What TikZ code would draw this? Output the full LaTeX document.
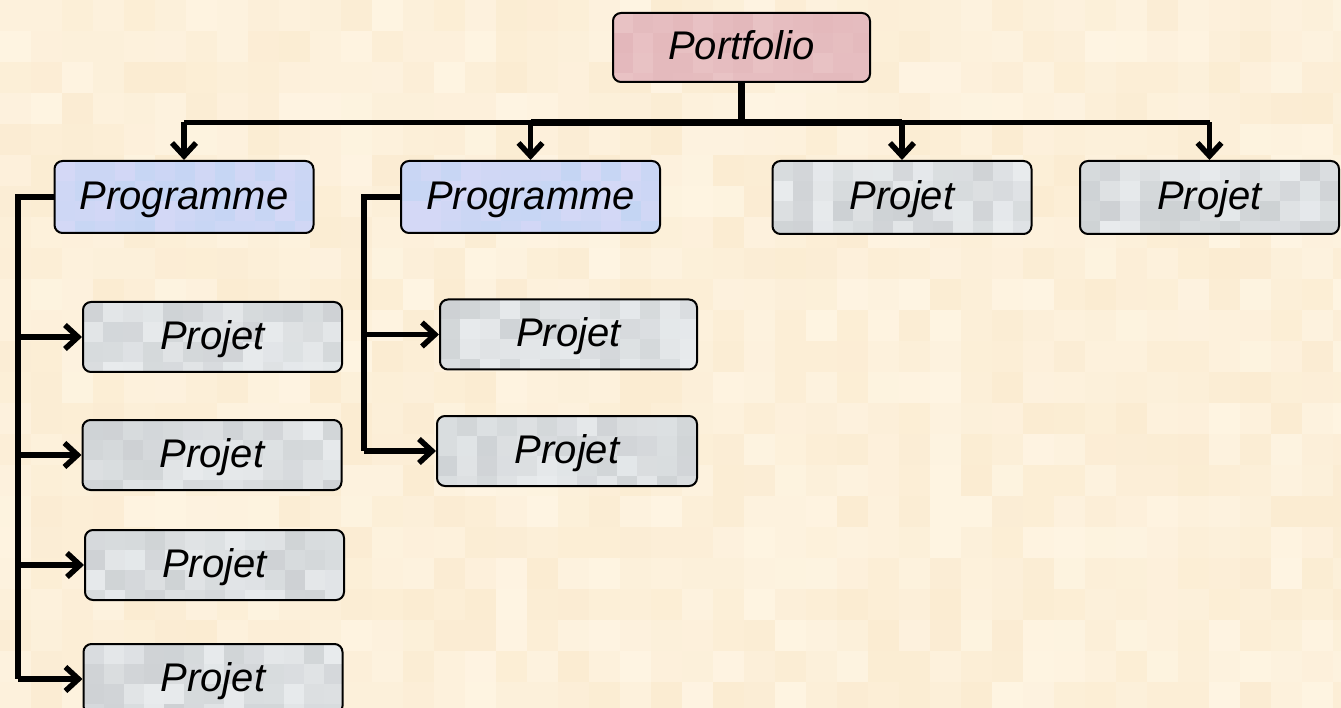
\documentclass[tikz,border=0pt]{standalone}
\usepackage{fontspec}
\setmainfont{Liberation Sans}
\usetikzlibrary{arrows.meta}

% palette
\definecolor{bgA}{HTML}{FEF4E2}
\definecolor{bgB}{HTML}{FBECD2}
\definecolor{grayA}{HTML}{E8EBED}
\definecolor{grayB}{HTML}{C2C6C9}
\definecolor{blueA}{HTML}{D5D8F6}
\definecolor{blueB}{HTML}{BDD4F2}
\definecolor{pinkA}{HTML}{E9C3C5}
\definecolor{pinkB}{HTML}{E0B2B6}

\tikzset{
  % mosaic fill clipped to the node outline
  tiles/.style 2 args={path picture={
    \foreach \i in {0,...,13}{\foreach \j in {0,...,3}{
      \pgfmathsetmacro\p{int(30+70*rnd)}
      \fill[sharp corners, #1!\p!#2] ([shift={(\i*20,\j*20)}]path picture bounding box.north west) rectangle ++(20.6,20.6);
    }}
  }},
  box/.style={draw=black, line width=2pt, rounded corners=8pt, inner sep=0pt,
    minimum height=70pt, minimum width=259pt, text height=31pt, text depth=6pt,
    font=\fontsize{40}{41}\selectfont\itshape},
  projbox/.style={box, tiles={grayA}{grayB}},
  progbox/.style={box, minimum height=72pt, tiles={blueA}{blueB}},
  portbox/.style={box, minimum width=257pt, minimum height=69pt, tiles={pinkA}{pinkB}},
  trunk/.style={line width=6.5pt},
  branch/.style={line width=5.5pt, -{Straight Barb[length=13pt,width=24pt]}},
}

\begin{document}
\begin{tikzpicture}[x=1pt,y=-1pt]
\pgfmathsetseed{11}
\useasboundingbox (0,0) rectangle (1341,708);

% textured backdrop
\foreach \i in {0,...,43}{\foreach \j in {0,...,22}{
  \pgfmathsetmacro\p{int(100*rnd)}
  \fill[bgA!\p!bgB] (\i*31,\j*31) rectangle ++(31.6,31.6);
}}

% nodes
\node[portbox] (port) at (741.5,47.5) {Portfolio};
\node[progbox] (prog1) at (184,197) {Programme};
\node[progbox] (prog2) at (530.5,197) {Programme};
\node[projbox, minimum height=73pt] (pa) at (902,197.5) {Projet};
\node[projbox, minimum height=73pt] (pb) at (1209.5,197.5) {Projet};

\node[projbox] (l1) at (212.5,337) {Projet};
\node[projbox] (l2) at (212,455) {Projet};
\node[projbox] (l3) at (214.5,565) {Projet};
\node[projbox] (l4) at (213,679) {Projet};

\node[projbox, minimum width=257pt] (m1) at (568.5,334.5) {Projet};
\node[projbox, minimum width=260pt] (m2) at (567,451) {Projet};

% top-level distribution bar
\coordinate (bar) at (0,122.5);
\draw[trunk] (port.south) -- (port.south |- bar);
\draw[trunk] (prog2.north |- bar) -- (pa.north |- bar);
\draw[line width=5pt] (prog1.north |- bar) -- (prog2.north |- bar);
\draw[line width=5pt] (pa.north |- bar) -- (pb.north |- bar);
\foreach \n in {prog1,prog2,pa,pb}
  \draw[branch] (\n.north |- bar) -- (\n.north);

% left programme bracket
\coordinate (lb) at (18,0);
\draw[trunk] (prog1.west) -| (lb |- l4.west);
\foreach \n in {l1,l2,l3,l4}
  \draw[branch] (lb |- \n.west) -- (\n.west);

% middle programme bracket
\coordinate (mb) at (364,0);
\draw[trunk] (prog2.west) -| (mb |- m2.west);
\foreach \n in {m1,m2}
  \draw[branch] (mb |- \n.west) -- (\n.west);
\end{tikzpicture}
\end{document}
